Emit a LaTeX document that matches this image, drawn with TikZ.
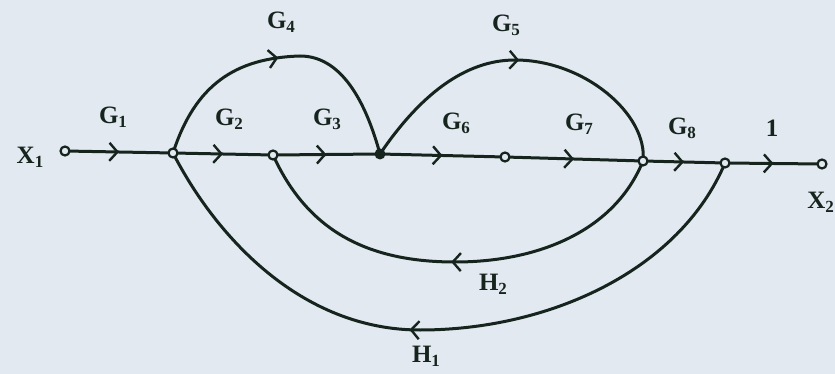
\documentclass[tikz,border=0pt]{standalone}
\usepackage{fontspec}
\setmainfont{Liberation Serif}
\usetikzlibrary{arrows.meta,decorations.markings}
\definecolor{paper}{RGB}{226,233,241}
\definecolor{ink}{RGB}{22,36,30}
\newcommand{\sublab}[2]{{\bfseries #1\raisebox{-4pt}{\fontsize{17}{17}\selectfont #2}}}
\tikzset{
  sig/.style={draw=ink, line width=3pt},
  chev/.style={decoration={markings, mark=at position #1 with {\arrow[ink, line width=2.4pt]{Straight Barb[length=8pt,width=18pt]}}}, postaction={decorate}},
  onode/.style={circle, draw=ink, line width=2.2pt, fill=paper, inner sep=0pt, minimum size=9pt},
  fnode/.style={circle, fill=ink, inner sep=0pt, minimum size=11pt},
  lab/.style={text=ink, font=\fontsize{25}{25}\selectfont\bfseries, inner sep=0pt}
}
\begin{document}
\begin{tikzpicture}[x=1pt,y=-1pt]
\fill[paper] (0,0) rectangle (835,374);
\useasboundingbox (0,0) rectangle (835,374);
% nodes
\coordinate (p1) at (65,151);
\coordinate (p2) at (173,153);
\coordinate (p3) at (273,155);
\coordinate (p4) at (380,154);
\coordinate (p5) at (505,157);
\coordinate (p6) at (643,161);
\coordinate (p7) at (725,163);
\coordinate (p8) at (822,164);
% main line
\draw[sig, chev=0.5] (p1) -- (p2);
\draw[sig, chev=0.5] (p2) -- (p3);
\draw[sig, chev=0.5] (p3) -- (p4);
\draw[sig, chev=0.5] (p4) -- (p5);
\draw[sig, chev=0.5] (p5) -- (p6);
\draw[sig, chev=0.5] (p6) -- (p7);
\draw[sig, chev=0.5] (p7) -- (p8);
% G4
\draw[sig, chev=0.49] (p2) .. controls (195,85) and (235,58) .. (300,56) .. controls (345,56) and (368,110) .. (p4);
% G5
\draw[sig, chev=0.5] (p4) .. controls (420,95) and (465,60) .. (515,60) .. controls (585,60) and (648,115) .. (p6);
% H2
\draw[sig, chev=0.51] (p6) .. controls (615,230) and (540,262) .. (455,262) .. controls (360,262) and (305,225) .. (p3);
% H1
\draw[sig, chev=0.55] (p7) .. controls (680,270) and (550,330) .. (420,330) .. controls (300,330) and (215,235) .. (p2);
% node markers
\node[onode] (n1) at (p1) {};
\node[onode] (n2) at (p2) {};
\node[onode] (n3) at (p3) {};
\node[fnode] (n4) at (p4) {};
\node[onode] (n5) at (p5) {};
\node[onode] (n6) at (p6) {};
\node[onode] (n7) at (p7) {};
\node[onode] (n8) at (p8) {};
% labels
\node[lab] (lx1) at (30,157) {\sublab{X}{1}};
\node[lab, anchor=east] (lx2) at (834,202) {\sublab{X}{2}};
\node[lab] (lg1) at (113,117) {\sublab{G}{1}};
\node[lab] (lg2) at (229,119) {\sublab{G}{2}};
\node[lab] (lg3) at (327,119) {\sublab{G}{3}};
\node[lab] (lg4) at (281,22) {\sublab{G}{4}};
\node[lab] (lg5) at (506,25) {\sublab{G}{5}};
\node[lab] (lg6) at (456,123) {\sublab{G}{6}};
\node[lab] (lg7) at (579,124) {\sublab{G}{7}};
\node[lab] (lg8) at (682,128) {\sublab{G}{8}};
\node[lab] (l1) at (772,128) {1};
\node[lab] (lh2) at (493,284) {\sublab{H}{2}};
\node[lab] (lh1) at (426,356) {\sublab{H}{1}};
\end{tikzpicture}
\end{document}
